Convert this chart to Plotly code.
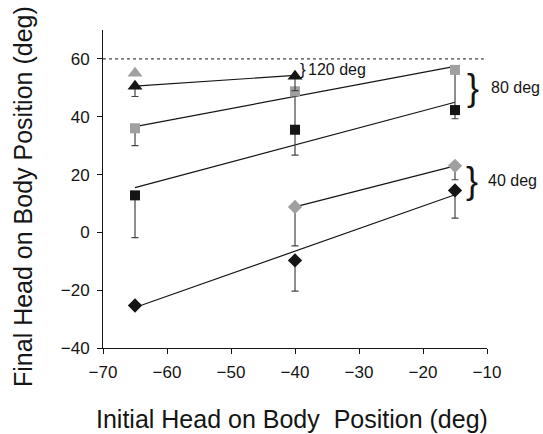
import plotly.graph_objects as go

# Data
x_pos = [-65, -40, -15]

tri_black_x = [-65, -40]
tri_black_y = [50.5, 54.0]
tri_black_err = [3.5, 5.0]

tri_gray_x = [-65]
tri_gray_y = [55.0]

sq_gray_y = [36.0, 48.8, 56.2]
sq_gray_err = [6.0, 12.0, 14.0]

sq_black_y = [12.8, 35.5, 42.3]
sq_black_err = [14.6, 8.8, 3.0]

dia_gray_x = [-40, -15]
dia_gray_y = [8.8, 23.0]
dia_gray_err = [13.5, 4.8]

dia_black_y = [-25.3, -9.7, 14.5]
dia_black_err = [0.0, 10.6, 9.6]

# fitted lines (endpoints)
fit_tri_black = ([-65, -40], [50.6, 54.3])
fit_sq_gray = ([-65, -15], [36.6, 57.4])
fit_sq_black = ([-65, -15], [15.5, 45.0])
fit_dia_gray = ([-40, -15], [8.8, 23.0])
fit_dia_black = ([-65, -15], [-26.0, 13.0])

reference_level = 60

BLACK = "#151515"
GRAY = "#a0a0a0"
ERR = "#444444"

fig = go.Figure()

for fx, fy in [fit_tri_black, fit_sq_gray, fit_sq_black, fit_dia_gray, fit_dia_black]:
    fig.add_trace(go.Scatter(x=fx, y=fy, mode="lines",
                             line=dict(color=BLACK, width=1.2), hoverinfo="skip"))


def pts(x, y, err, symbol, color, size):
    e = None
    if err is not None:
        e = dict(type="data", symmetric=False, array=[0] * len(err), arrayminus=err,
                 color=ERR, thickness=1.2, width=3.5)
    fig.add_trace(go.Scatter(x=x, y=y, mode="markers", error_y=e,
                             marker=dict(symbol=symbol, color=color, size=size,
                                         line=dict(width=0))))


pts(tri_gray_x, tri_gray_y, None, "triangle-up", GRAY, 13)
pts(x_pos, sq_gray_y, sq_gray_err, "square", GRAY, 10)
pts(x_pos, sq_black_y, sq_black_err, "square", BLACK, 10)
pts(dia_gray_x, dia_gray_y, dia_gray_err, "diamond", GRAY, 11)
pts(x_pos, dia_black_y, dia_black_err, "diamond", BLACK, 11)
pts(tri_black_x, tri_black_y, tri_black_err, "triangle-up", BLACK, 13)

fig.add_shape(type="line", x0=-70, x1=-10.5, y0=reference_level, y1=reference_level,
              line=dict(color=BLACK, width=1, dash="dot"))

font = "Liberation Sans, Arial, sans-serif"
ann = [
    dict(x=-40, y=56.5, text="}", size=17, xshift=8),
    dict(x=-40, y=56.5, text="120 deg", size=16, xshift=42),
    dict(x=-15, y=50, text="}", size=36, xshift=18),
    dict(x=-15, y=50, text="80 deg", size=16, xshift=60),
    dict(x=-15, y=18, text="}", size=36, xshift=17),
    dict(x=-15, y=18, text="40 deg", size=16, xshift=57),
]
for a in ann:
    fig.add_annotation(x=a["x"], y=a["y"], text=a["text"], showarrow=False,
                       xshift=a["xshift"], font=dict(family=font, size=a["size"], color=BLACK))

fig.add_annotation(xref="paper", yref="paper", x=0, y=0.5, xshift=-80, yshift=-8,
                   xanchor="center", yanchor="middle",
                   text="Final Head on Body Position (deg)", textangle=-90, showarrow=False,
                   font=dict(family=font, size=25, color=BLACK))
fig.add_annotation(xref="paper", yref="paper", x=0.5, y=0, xshift=-3, yshift=-71,
                   xanchor="center", yanchor="middle",
                   text="Initial Head on Body&nbsp; Position (deg)", showarrow=False,
                   font=dict(family=font, size=25, color=BLACK))

fig.update_layout(
    width=543, height=434,
    margin=dict(l=103, r=56, t=30, b=86),
    paper_bgcolor="white", plot_bgcolor="white",
    showlegend=False,
    font=dict(family=font, color=BLACK),
    xaxis=dict(range=[-70, -10], tickvals=[-70, -60, -50, -40, -30, -20, -10],
               showgrid=False, zeroline=False, showline=True, linecolor=BLACK, linewidth=1,
               ticks="outside", ticklen=5, tickcolor=BLACK, tickfont=dict(size=17),
               ticklabelstandoff=4, automargin=False),
    yaxis=dict(range=[-40, 70], tickvals=[-40, -20, 0, 20, 40, 60],
               showgrid=False, zeroline=False, showline=True, linecolor=BLACK, linewidth=1,
               ticks="outside", ticklen=5, tickcolor=BLACK, tickfont=dict(size=17),
               ticklabelstandoff=4, automargin=False),
)

fig.write_html("out.html", post_script="document.body.style.margin='0';",
               config={"displayModeBar": False})
